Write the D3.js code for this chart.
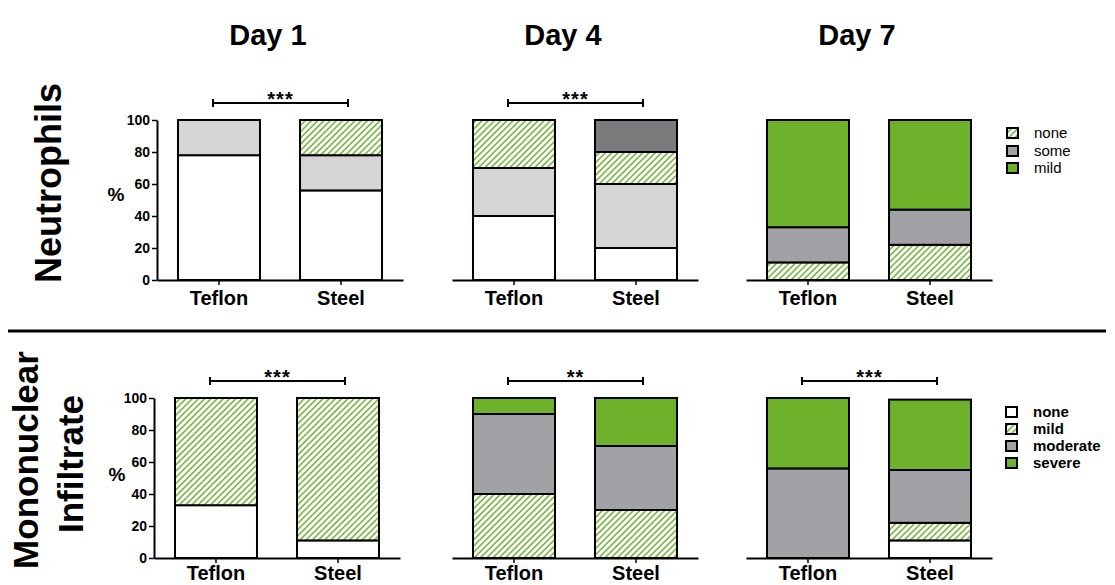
<!DOCTYPE html>
<html>
<head>
<meta charset="utf-8">
<script src="https://cdn.jsdelivr.net/npm/d3@7"></script>
<style>
  html, body { margin: 0; padding: 0; background: #fff; }
  svg { display: block; font-family: "Liberation Sans", Arial, sans-serif; }
</style>
</head>
<body>
<svg id="chart" width="1115" height="585"></svg>
<script>
// ---- data ----
const days = ["Day 1", "Day 4", "Day 7"];
const materials = ["Teflon", "Steel"];
const yTicks = [0, 20, 40, 60, 80, 100];

// Neutrophils: stacked percentages per day, per material (bottom to top)
const neutrophilValues = [
  [[78, 22], [56, 22, 22]],
  [[40, 30, 30], [20, 40, 20, 20]],
  [[11, 22, 67], [22, 22, 56]]
];
const neutrophilFills = [
  [["white", "light"], ["white", "light", "hatch"]],
  [["white", "light", "hatch"], ["white", "light", "hatch", "dark"]],
  [["hatch", "gray", "green"], ["hatch", "gray", "green"]]
];
const neutrophilStars = ["***", "***", ""];

// Mononuclear infiltrate
const monoValues = [
  [[33, 67], [11, 89]],
  [[40, 50, 10], [30, 40, 30]],
  [[56, 44], [11, 11, 33, 44]]
];
const monoFills = [
  [["white", "hatch"], ["white", "hatch"]],
  [["hatch", "gray", "green"], ["hatch", "gray", "green"]],
  [["gray", "green"], ["white", "hatch", "gray", "green"]]
];
const monoStars = ["***", "**", "***"];

const neutrophilLegend = ["none", "some", "mild"];
const neutrophilLegendFills = ["hatch", "gray", "green"];
const monoLegend = ["none", "mild", "moderate", "severe"];
const monoLegendFills = ["white", "hatch", "gray", "green"];

// ---- styling ----
const fillColor = {
  white: "#ffffff",
  light: "#d5d5d5",
  dark: "#7b7b7d",
  gray: "#a2a2a6",
  green: "#6db22a",
  hatch: "url(#hatch)"
};

const svg = d3.select("#chart");

// diagonal green hatching
const defs = svg.append("defs");
const pat = defs.append("pattern")
  .attr("id", "hatch")
  .attr("patternUnits", "userSpaceOnUse")
  .attr("width", 4.4).attr("height", 4.4)
  .attr("patternTransform", "rotate(45)");
pat.append("rect").attr("width", 4.4).attr("height", 4.4).attr("fill", "#fff");
pat.append("line").attr("x1", 1).attr("y1", -1).attr("x2", 1).attr("y2", 6)
  .attr("stroke", "#76b23e").attr("stroke-width", 1.6);

// panel layout
const panelX = [[157, 452, 746], [154, 452, 746]];
const panelW = 246;
const rows = [
  { values: neutrophilValues, fills: neutrophilFills, stars: neutrophilStars, y0: 280, y100: 120, ylabel: [116, 196], pad: 6 },
  { values: monoValues, fills: monoFills, stars: monoStars, y0: 558, y100: 398, ylabel: [117, 476], pad: 3 }
];

const x = d3.scaleBand().domain(materials).range([0, panelW])
  .paddingInner(0.328).paddingOuter(0.172);

rows.forEach((row, r) => {
  const y = d3.scaleLinear().domain([0, 100]).range([row.y0, row.y100]);

  days.forEach((day, d) => {
    const g = svg.append("g").attr("transform", `translate(${panelX[r][d]},0)`);

    // stacked bars
    materials.forEach((m, mi) => {
      const vals = row.values[d][mi];
      const fills = row.fills[d][mi];
      let acc = 0;
      vals.forEach((v, k) => {
        const lo = acc, hi = acc + v;
        acc = hi;
        g.append("rect")
          .attr("x", x(m))
          .attr("y", y(hi))
          .attr("width", x.bandwidth())
          .attr("height", y(lo) - y(hi))
          .attr("fill", fillColor[fills[k]])
          .attr("stroke", "#000")
          .attr("stroke-width", 2);
      });
    });

    // x axis
    const xa = g.append("g").attr("transform", `translate(0,${row.y0})`)
      .call(d3.axisBottom(x).tickSizeOuter(0).tickSizeInner(5).tickPadding(row.pad));
    xa.select(".domain").attr("stroke", "#000").attr("stroke-width", 2);
    xa.selectAll(".tick line").attr("stroke", "#000").attr("stroke-width", 1.5);
    xa.selectAll(".tick text")
      .attr("fill", "#000")
      .style("font-size", "20px")
      .style("font-weight", "bold")
      .style("font-family", "'Liberation Sans', Arial, sans-serif");

    // y axis on the first panel of each row
    if (d === 0) {
      const ya = g.append("g")
        .call(d3.axisLeft(y).tickValues(yTicks).tickSizeOuter(0).tickSizeInner(5).tickPadding(2));
      ya.select(".domain").attr("stroke", "#000").attr("stroke-width", 2);
      ya.selectAll(".tick line").attr("stroke", "#000").attr("stroke-width", 1.5);
      ya.selectAll(".tick text")
        .attr("fill", "#000")
        .style("font-size", "14px")
        .style("font-weight", "bold")
        .style("font-family", "'Liberation Sans', Arial, sans-serif");
      svg.append("text")
        .attr("x", row.ylabel[0]).attr("y", row.ylabel[1])
        .attr("text-anchor", "middle").attr("dominant-baseline", "middle")
        .style("font-size", "19px").style("font-weight", "bold")
        .text("%");
    }

    // significance bracket
    if (row.stars[d]) {
      const bx1 = x("Teflon") + x.bandwidth() / 2 - 6;
      const bx2 = x("Steel") + x.bandwidth() / 2 + 7;
      const by = y(100) - 17;
      g.append("path")
        .attr("d", `M${bx1},${by - 4}V${by + 4}M${bx1},${by}H${bx2}M${bx2},${by - 4}V${by + 4}`)
        .attr("fill", "none").attr("stroke", "#000").attr("stroke-width", 2);
      g.append("text")
        .attr("x", (bx1 + bx2) / 2).attr("y", by + 3)
        .attr("text-anchor", "middle")
        .style("font-size", "20px").style("font-weight", "bold")
        .style("letter-spacing", "1px")
        .text(row.stars[d]);
    }

    // day titles above the top row
    if (r === 0) {
      const cx = (x("Teflon") + x("Steel") + x.bandwidth()) / 2 - 12;
      g.append("text")
        .attr("x", cx).attr("y", 45)
        .attr("text-anchor", "middle")
        .style("font-size", "29px").style("font-weight", "bold")
        .text(day);
    }
  });
});

// row labels
svg.append("text")
  .attr("transform", "translate(61,183) rotate(-90)")
  .attr("text-anchor", "middle")
  .style("font-size", "36px").style("font-weight", "bold")
  .text("Neutrophils");
svg.append("text")
  .attr("transform", "translate(38,460) rotate(-90)")
  .attr("text-anchor", "middle")
  .style("font-size", "35px").style("font-weight", "bold")
  .text("Mononuclear");
svg.append("text")
  .attr("transform", "translate(83,464) rotate(-90)")
  .attr("text-anchor", "middle")
  .style("font-size", "35px").style("font-weight", "bold")
  .text("Infiltrate");

// row separator
svg.append("line")
  .attr("x1", 8).attr("x2", 1106).attr("y1", 331).attr("y2", 331)
  .attr("stroke", "#000").attr("stroke-width", 3);

// legends
function legend(labels, fills, x0, yCenters, bold, size) {
  const lg = svg.append("g");
  labels.forEach((lab, i) => {
    lg.append("rect")
      .attr("x", x0).attr("y", yCenters[i] - 5)
      .attr("width", 11).attr("height", 10)
      .attr("fill", fillColor[fills[i]])
      .attr("stroke", "#000").attr("stroke-width", 2);
    lg.append("text")
      .attr("x", x0 + 27).attr("y", yCenters[i] + 1)
      .attr("dominant-baseline", "middle")
      .style("font-size", size + "px")
      .style("font-weight", bold ? "bold" : "normal")
      .text(lab);
  });
}
legend(neutrophilLegend, neutrophilLegendFills, 1007, [133, 151, 168], false, 15);
legend(monoLegend, monoLegendFills, 1006, [412, 429, 446, 463], true, 15);
</script>
</body>
</html>
